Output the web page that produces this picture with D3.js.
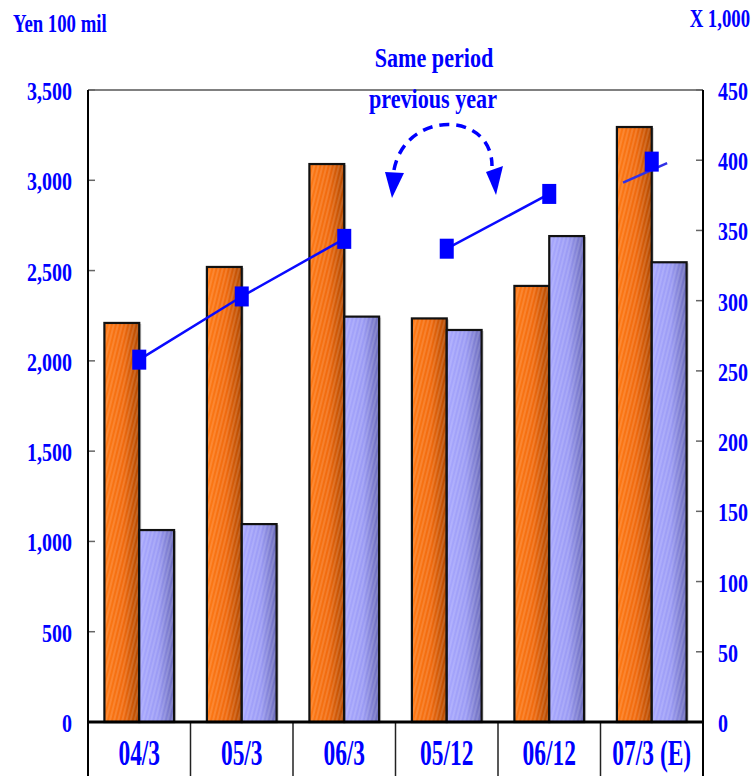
<!DOCTYPE html>
<html>
<head>
<meta charset="utf-8">
<script src="https://cdn.jsdelivr.net/npm/d3@7"></script>
<style>
 body{margin:0;background:#fff;}
 svg{display:block;}
</style>
</head>
<body>
<script>
// chart data
var categories=['04/3','05/3','06/3','05/12','06/12','07/3 (E)'];
var salesVals=[2210,2520,3090,2235,2415,3295]; // orange, left axis (Yen 100 mil)
var blueVals=[1063,1096,2245,2171,2691,2546]; // blue, left axis
var unitVals=[258,303,344,337,376,399]; // markers, right axis (x 1,000)
var lineRuns=[[0,1,2],[3,4]]; // which points are joined
var stubPts=[{i:5,off:-0.28,v:384},{i:5,off:0.15,v:398}]; // short trend stub on last point
var leftTicks=[0,500,1000,1500,2000,2500,3000,3500];
var rightTicks=[0,50,100,150,200,250,300,350,400,450];

// layout
var wid=753,hgh=776;
var pl=88,pr=703,pt=90,pb=722;
var blue='#0000ff';
var fnt="'Liberation Serif','Times New Roman',serif";

var svg=d3.select('body').append('svg').attr('width',wid).attr('height',hgh);
var defs=svg.append('defs');
function grad(id,stops) {
 var g=defs.append('linearGradient').attr('id',id).attr('x1',0).attr('x2',1).attr('y1',0).attr('y2',0);
 stops.forEach(function (s) {g.append('stop').attr('offset',s[0]).attr('stop-color',s[1]);});
}
grad('gor',[[0,'#ff7a16'],[0.55,'#f06a0e'],[1,'#b04800']]);
grad('gbl',[[0,'#a8a8ff'],[0.55,'#9b9bf4'],[1,'#6a6ab8']]);
var pat=defs.append('pattern').attr('id','stripe').attr('patternUnits','userSpaceOnUse')
  .attr('width',4).attr('height',8).attr('patternTransform','rotate(14)');
pat.append('line').attr('x1',1).attr('y1',0).attr('x2',1).attr('y2',8)
  .attr('stroke','#ffffff').attr('stroke-opacity',0.22).attr('stroke-width',1.2);

var x=d3.scaleBand().domain(categories).range([pl,pr]).paddingInner(0).paddingOuter(0);
var yL=d3.scaleLinear().domain([0,3500]).range([pb,pt]);
var yR=d3.scaleLinear().domain([0,450]).range([pb,pt]);
var bw=x.bandwidth()*0.34;

function txt(g,px,py,s,size,sx,anchor) {
 g.append('text').attr('transform','translate('+px+','+py+') scale('+sx+',1)')
  .attr('text-anchor',anchor).attr('fill',blue)
  .style('font-family',fnt).style('font-weight','bold').style('font-size',size+'px')
  .text(s);
}

// frame: gray top, ticks inside
svg.append('line').attr('x1',pl).attr('x2',pr).attr('y1',pt).attr('y2',pt)
  .attr('stroke','#808080').attr('stroke-width',2);
svg.append('g').selectAll('line').data(leftTicks).enter().append('line')
  .attr('x1',pl).attr('x2',pl+7).attr('y1',function (d) {return yL(d);}).attr('y2',function (d) {return yL(d);})
  .attr('stroke','#666').attr('stroke-width',1.5);
svg.append('g').selectAll('line').data(rightTicks).enter().append('line')
  .attr('x1',pr-7).attr('x2',pr).attr('y1',function (d) {return yR(d);}).attr('y2',function (d) {return yR(d);})
  .attr('stroke','#666').attr('stroke-width',1.5);

// bars
var bars=svg.append('g');
function drawbars(vals,off,gid) {
 var sel=bars.selectAll(null).data(vals).enter();
 var bx=function (d,i) {return x(categories[i])+x.bandwidth()/2+off;};
 sel.append('rect').attr('x',function (d,i) {return bx(d,i)+2;}).attr('y',function (d) {return yL(d)+1;})
   .attr('width',bw).attr('height',function (d) {return pb-yL(d)-1;}).attr('fill','#a0a0a0').attr('opacity',0.5);
 sel.append('rect').attr('x',bx).attr('y',function (d) {return yL(d);})
   .attr('width',bw).attr('height',function (d) {return pb-yL(d);}).attr('fill','url(#'+gid+')');
 sel.append('rect').attr('x',bx).attr('y',function (d) {return yL(d);})
   .attr('width',bw).attr('height',function (d) {return pb-yL(d);}).attr('fill','url(#stripe)')
   .attr('stroke','#111').attr('stroke-width',2.2);
}
drawbars(salesVals,-bw,'gor');
drawbars(blueVals,0,'gbl');

// left / right axis lines, bottom axis and category table
svg.append('line').attr('x1',pl).attr('x2',pl).attr('y1',pt).attr('y2',hgh).attr('stroke','#000').attr('stroke-width',2);
svg.append('line').attr('x1',pr).attr('x2',pr).attr('y1',pt).attr('y2',hgh).attr('stroke','#000').attr('stroke-width',2);
svg.append('g').selectAll('line').data(categories.slice(1)).enter().append('line')
  .attr('x1',function (d) {return x(d);}).attr('x2',function (d) {return x(d);})
  .attr('y1',pb).attr('y2',hgh).attr('stroke','#222').attr('stroke-width',1.5);
svg.append('line').attr('x1',pl-1).attr('x2',pr+1).attr('y1',pb).attr('y2',pb).attr('stroke','#000').attr('stroke-width',3);

// line series (right axis)
var ln=d3.line().x(function (i) {return x(categories[i])+x.bandwidth()/2;}).y(function (i) {return yR(unitVals[i]);});
svg.append('g').selectAll('path').data(lineRuns).enter().append('path')
  .attr('d',ln).attr('fill','none').attr('stroke','#0a0aff').attr('stroke-width',2.5);
var sl=d3.line().x(function (p) {return x(categories[p.i])+x.bandwidth()/2+p.off*x.step();}).y(function (p) {return yR(p.v);});
svg.append('path').attr('d',sl(stubPts)).attr('fill','none').attr('stroke','#3030e6').attr('stroke-width',2.5);
svg.append('g').selectAll('rect').data(unitVals).enter().append('rect')
  .attr('x',function (d,i) {return x(categories[i])+x.bandwidth()/2-7;})
  .attr('y',function (d) {return yR(d)-10;}).attr('width',14).attr('height',20).attr('fill',blue);

// tick labels
var tl=svg.append('g');
leftTicks.forEach(function (d) {txt(tl,72,yL(d)+10,d3.format(',')(d),25,0.8,'end');});
rightTicks.forEach(function (d) {txt(tl,718,yR(d)+10,d3.format(',')(d),25,0.8,'start');});
categories.forEach(function (c) {txt(tl,x(c)+x.bandwidth()/2,765,c,35,0.67,'middle');});

// axis titles
txt(svg,13,32,'Yen 100 mil',25,0.75,'start');
txt(svg,750,27,'X 1,000',25,0.75,'end');

// annotation
txt(svg,434,67,'Same period',28,0.79,'middle');
txt(svg,433,108,'previous year',28,0.79,'middle');
svg.append('path').attr('d','M394,170 C405,110 492,110 492,166')
  .attr('fill','none').attr('stroke',blue).attr('stroke-width',3.5).attr('stroke-dasharray','10,7');
svg.append('polygon').attr('points','385,172 404,173 392,198').attr('fill',blue);
svg.append('polygon').attr('points','486,172 503,166 496,195').attr('fill',blue);
</script>
</body>
</html>
